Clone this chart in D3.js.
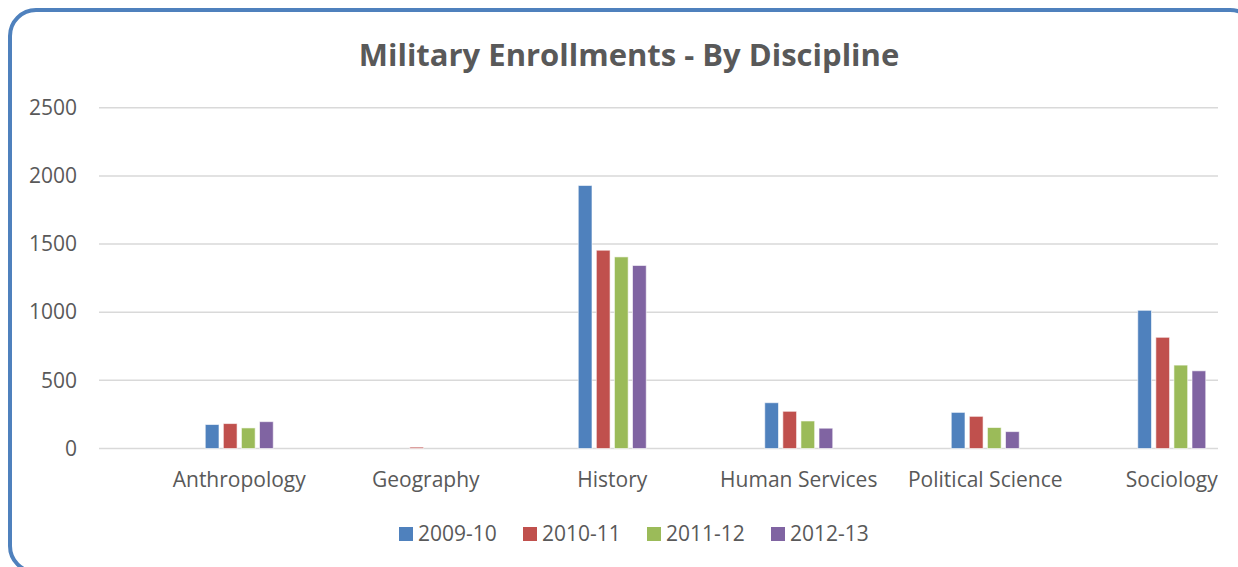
<!DOCTYPE html>
<html>
<head>
<meta charset="utf-8">
<script src="https://cdn.jsdelivr.net/npm/d3@7"></script>
<style>
  html, body { margin: 0; padding: 0; background: #fff; }
  svg { display: block; }
  text { font-family: "Open Sans", sans-serif; fill: #595959; }
</style>
</head>
<body>
<svg id="chart" width="1238" height="567"></svg>
<script>
// Enrollment counts per discipline, one array per academic year
const categories = ["Anthropology", "Geography", "History", "Human Services", "Political Science", "Sociology"];
const seriesNames = ["2009-10", "2010-11", "2011-12", "2012-13"];
const values2009 = [176, 0, 1930, 336, 265, 1014];
const values2010 = [183, 10, 1455, 273, 236, 816];
const values2011 = [151, 0, 1406, 202, 154, 612];
const values2012 = [197, 0, 1343, 149, 124, 570];
const yTicks = [0, 500, 1000, 1500, 2000, 2500];
const seriesColors = ["#4F81BD", "#C0504D", "#9BBB59", "#8064A2"];

const seriesValues = [values2009, values2010, values2011, values2012];

const svg = d3.select("#chart");

// Rounded frame around the chart
svg.append("rect")
  .attr("x", 10).attr("y", 10)
  .attr("width", 1246).attr("height", 562)
  .attr("rx", 26).attr("ry", 26)
  .attr("fill", "#fff")
  .attr("stroke", "#4F81BD")
  .attr("stroke-width", 4);

// Title
svg.append("text")
  .attr("x", 629).attr("y", 66)
  .attr("text-anchor", "middle")
  .style("font-size", "31px")
  .style("font-weight", "700")
  .text("Military Enrollments - By Discipline");

const y = d3.scaleLinear().domain([0, 2500]).range([448.5, 107.8]);
const x0 = d3.scaleBand().domain(categories).range([146, 1265]);
const x1 = d3.scaleBand().domain(seriesNames).range([0, 68]).paddingInner(0.24);
const gridX0 = 99, gridX1 = 1218;

// Horizontal gridlines
svg.append("g")
  .selectAll("line")
  .data(yTicks)
  .join("line")
  .attr("x1", gridX0).attr("x2", gridX1)
  .attr("y1", d => y(d)).attr("y2", d => y(d))
  .attr("stroke", "#D9D9D9")
  .attr("stroke-width", 1.5);

// Value axis labels
const yAxis = d3.axisLeft(y).tickValues(yTicks).tickSize(0).tickPadding(0).tickFormat(d3.format("d"));
const yG = svg.append("g").attr("transform", "translate(77,0)").call(yAxis);
yG.select(".domain").remove();
yG.selectAll("text")
  .style("font-family", "'Open Sans', sans-serif")
  .style("font-size", "21px")
  .attr("fill", "#595959");

// Category axis labels
const xAxis = d3.axisBottom(x0).tickSize(0).tickPadding(0);
const xG = svg.append("g").attr("transform", "translate(0,472)").call(xAxis);
xG.select(".domain").remove();
xG.selectAll("text")
  .style("font-family", "'Open Sans', sans-serif")
  .style("font-size", "21px")
  .attr("fill", "#595959");

// Clustered bars
const groups = svg.append("g")
  .selectAll("g")
  .data(categories)
  .join("g")
  .attr("transform", d => `translate(${x0(d) + x0.bandwidth() / 2 - 34},0)`);

groups.selectAll("rect")
  .data((c, i) => seriesNames.map((s, j) => ({ s, j, v: seriesValues[j][i] })))
  .join("rect")
  .filter(d => d.v > 0)
  .attr("x", d => x1(d.s))
  .attr("y", d => y(d.v))
  .attr("width", x1.bandwidth())
  .attr("height", d => y(0) - y(d.v))
  .attr("fill", d => seriesColors[d.j])
  .attr("stroke", "#fff")
  .attr("stroke-opacity", 0.6)
  .attr("stroke-width", 1);

// Legend
const legend = svg.append("g")
  .selectAll("g")
  .data(seriesNames)
  .join("g")
  .attr("transform", (d, i) => `translate(${399 + i * 124},527)`);
legend.append("rect")
  .attr("width", 14).attr("height", 14)
  .attr("fill", (d, i) => seriesColors[i]);
legend.append("text")
  .attr("x", 19).attr("y", 14)
  .style("font-size", "21px")
  .text(d => d);
</script>
</body>
</html>
